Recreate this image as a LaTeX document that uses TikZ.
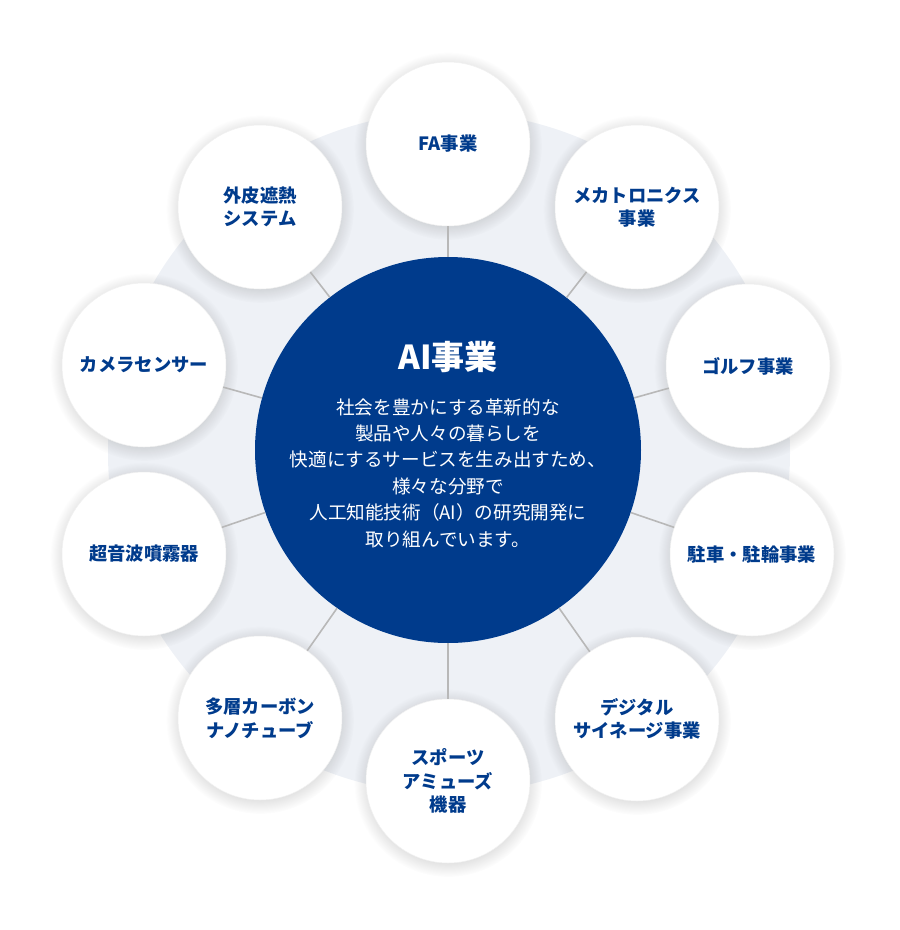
\documentclass[tikz,border=0pt]{standalone}
\usepackage{fontspec}
\setmainfont{Noto Sans CJK JP}
\usetikzlibrary{fadings,backgrounds}
\definecolor{aiblue}{HTML}{003B8C}
\definecolor{ringbg}{HTML}{EEF1F6}
\definecolor{linkgray}{HTML}{B8B8B8}
\tikzset{
  sat/.style={circle, fill=white, draw=black!6, line width=0.5pt, minimum size=164pt, inner sep=0pt,
    text=aiblue, font=\bfseries\fontsize{18.3}{23.5}\selectfont, align=center},
  halo/.style={fill=black, opacity=0.14, path fading=circle with fuzzy edge 20 percent},
  core/.style={circle, fill=aiblue, minimum size=386pt, inner sep=0pt},
  link/.style={linkgray, line width=1.6pt},
  bgring/.style={circle, fill=ringbg, minimum size=682pt, inner sep=0pt}
}
\begin{document}
\begin{tikzpicture}[x=1pt,y=-1pt]
\useasboundingbox (0,0) rectangle (900,930);
\node[core] (ai) at (448,450) {};
\node[text=white, font=\bfseries\fontsize{33}{38}\selectfont] (title) at (448,357) {AI事業};
\node[text=white, font=\fontsize{18.6}{26.4}\selectfont, align=center] (body) at (448,473)
  {社会を豊かにする革新的な\\製品や人々の暮らしを\\快適にするサービスを生み出すため、\\様々な分野で\\人工知能技術（AI）の研究開発に\\取り組んでいます。};
\node[sat] (fa) at (448,144) {FA事業};
\node[sat] (mecha) at (637,207) {メカトロニクス\\事業};
\node[sat] (golf) at (748,366) {ゴルフ事業};
\node[sat] (park) at (752,554) {駐車・駐輪事業};
\node[sat] (sign) at (637,719) {デジタル\\サイネージ事業};
\node[sat] (sport) at (448,781) {スポーツ\\アミューズ\\機器};
\node[sat] (cnt) at (260,718) {多層カーボン\\ナノチューブ};
\node[sat] (mist) at (144,554) {超音波噴霧器};
\node[sat] (cam) at (144,365) {カメラセンサー};
\node[sat] (heat) at (260,207) {外皮遮熱\\システム};
\begin{scope}[on background layer]
  \node[bgring] (ring) at (449,453) {};
  \foreach \s in {fa,mecha,golf,park,sign,sport,cnt,mist,cam,heat}
    \fill[halo] ([yshift=-2pt]\s.center) circle (94pt);
\end{scope}
\foreach \s in {fa,mecha,golf,park,sign,sport,cnt,mist,cam,heat}
  \draw[link] (ai) -- (\s);
\end{tikzpicture}
\end{document}
